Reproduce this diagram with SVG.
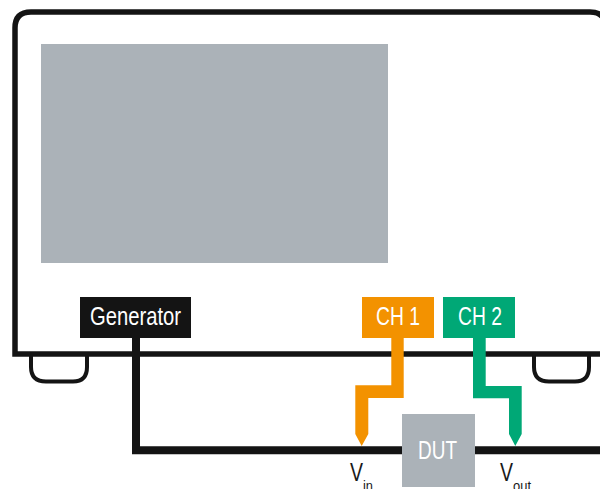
<svg xmlns="http://www.w3.org/2000/svg" width="600" height="489" viewBox="0 0 600 489">
<style>
.t{font-family:"Liberation Sans",Arial,sans-serif;font-size:26px;text-anchor:start}
.s{font-size:15px}
.w{fill:#fff}
.d{fill:#1a1a1a}
.l{fill:none;stroke:#141414;stroke-linejoin:miter}
</style>
<g id="instrument">
<path class="l" stroke-width="5.500" d="M606 354H15V28Q15 12 31 12H590Q606 12 606 28"/>
<rect x="41" y="44" width="347" height="219" fill="#abb2b8"/>
<path class="l" stroke-width="4" d="M31 356V367Q31 381.500 46 381.500H73Q87 381.500 87 367V356"/>
<path class="l" stroke-width="4" d="M534 356V367Q534 381.500 549 381.500H575Q589 381.500 589 367V356"/>
</g>
<g id="connectors">
<path class="l" stroke-width="8" d="M136 338V450.300H402M475 450.300H600"/>
<path d="M391.300 338H403.700V398H368.300V434L361.700 446L355.300 434V385.300H391.300Z" fill="#f39200"/>
<path d="M473 338H485.700V386H521.700V434L515.300 446L509 434V398.300H473Z" fill="#00a876"/>
</g>
<g id="generator">
<rect x="80" y="297" width="111" height="41" fill="#141414"/>
<text class="t w" x="90" y="325" textLength="91" lengthAdjust="spacingAndGlyphs">Generator</text>
</g>
<g id="ch1">
<rect x="362" y="297" width="72" height="41" fill="#f39200"/>
<text class="t w" x="376" y="325" textLength="44" lengthAdjust="spacingAndGlyphs">CH 1</text>
</g>
<g id="ch2">
<rect x="443" y="297" width="72" height="41" fill="#00a876"/>
<text class="t w" x="458" y="325" textLength="44" lengthAdjust="spacingAndGlyphs">CH 2</text>
</g>
<g id="dut">
<rect x="402" y="414" width="73" height="73" fill="#abb2b8"/>
<text class="t w" x="418" y="459" textLength="39" lengthAdjust="spacingAndGlyphs">DUT</text>
</g>
<g id="vin">
<text class="t d" x="350" y="481" textLength="13" lengthAdjust="spacingAndGlyphs">V</text>
<text class="t d s" x="363" y="491" textLength="10" lengthAdjust="spacingAndGlyphs">in</text>
</g>
<g id="vout">
<text class="t d" x="500" y="481" textLength="13" lengthAdjust="spacingAndGlyphs">V</text>
<text class="t d s" x="513" y="491" textLength="18" lengthAdjust="spacingAndGlyphs">out</text>
</g>
</svg>
